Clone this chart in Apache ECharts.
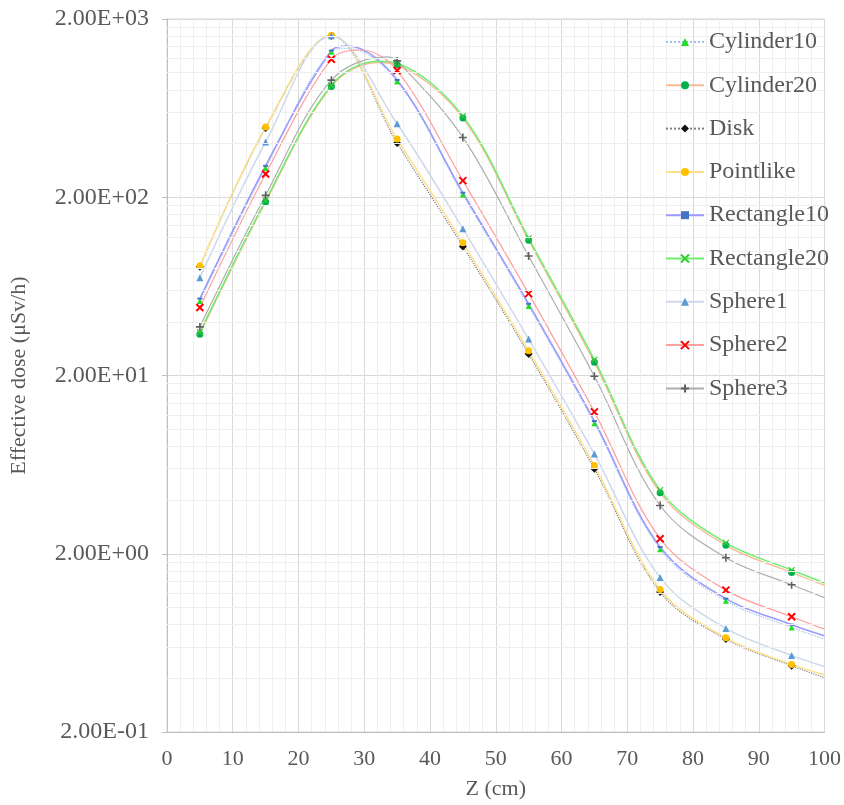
<!DOCTYPE html>
<html>
<head>
<meta charset="utf-8">
<script src="https://cdn.jsdelivr.net/npm/echarts@6/dist/echarts.min.js"></script>
<style>
html,body{margin:0;padding:0;background:#fff;}
#chart{width:844px;height:805px;}
</style>
</head>
<body>
<div id="chart"></div>
<script>
// ---- data ----
const zMarkers = [5, 15, 25, 35, 45, 55, 65, 75, 85, 95];
const seriesNames = ['Cylinder10', 'Cylinder20', 'Disk', 'Pointlike', 'Rectangle10', 'Rectangle20', 'Sphere1', 'Sphere2', 'Sphere3'];
const cylinder10  = [52.4, 292, 1312, 892, 207, 49.1, 10.8, 2.12, 1.09, 0.772];
const cylinder20  = [34.1, 188, 836, 1106, 556, 114.9, 23.7, 4.40, 2.23, 1.57];
const disk        = [81.6, 489, 1606, 403, 106, 26.4, 5.99, 1.22, 0.664, 0.471];
const pointlike   = [82.5, 495, 1620, 424, 111, 27.5, 6.25, 1.26, 0.675, 0.479];
const rectangle10 = [54.0, 300, 1330, 910, 212, 50.5, 11.1, 2.18, 1.12, 0.80];
const rectangle20 = [35.0, 192, 850, 1130, 570, 118, 24.5, 4.55, 2.30, 1.62];
const sphere1     = [70.8, 408, 1610, 517, 133, 32.0, 7.26, 1.47, 0.762, 0.538];
const sphere2     = [48.1, 270, 1190, 1028, 248, 57.6, 12.5, 2.43, 1.25, 0.886];
const sphere3     = [37.5, 205, 908, 1164, 433, 93.6, 19.8, 3.73, 1.90, 1.34];
// curve-only values (no marker)
const zEnd = 100;
const endValues  = [0.664, 1.33, 0.403, 0.418, 0.693, 1.37, 0.465, 0.755, 1.135];
const peakZ      = [27.5, 32, null, null, 27.5, 32, null, 29.5, 33.4];
const peakValues = [1370, 1140, null, null, 1410, 1160, null, 1340, 1226];
const yTicks = [0.2, 2, 20, 200, 2000];
const yMinorGrid = [0.4,0.6,0.8,1,1.2,1.4,1.6,1.8, 4,6,8,10,12,14,16,18, 40,60,80,100,120,140,160,180, 400,600,800,1000,1200,1400,1600,1800];

const allValues = [cylinder10, cylinder20, disk, pointlike, rectangle10, rectangle20, sphere1, sphere2, sphere3];

const X_PATH = 'path://M0,0L10,10M10,0L0,10';
const PLUS_PATH = 'path://M5,0L5,10M0,5L10,5';
const styles = [
  {line:{color:'#9dc3e6', width:1.2, type:'dotted'}, symbol:'triangle', size:6, item:{color:'#22dd22', borderColor:'#22dd22', borderWidth:0}},
  {line:{color:'#f8b995', width:1.3, type:'solid'}, symbol:'circle', size:7, item:{color:'#00b050', borderColor:'#00b050', borderWidth:0}},
  {line:{color:'#7f7f7f', width:1.2, type:'dotted'}, symbol:'diamond', size:8, item:{color:'#111111', borderColor:'#111111', borderWidth:0}},
  {line:{color:'#ffe08a', width:1.5, type:'solid'}, symbol:'circle', size:7, item:{color:'#ffc000', borderColor:'#ffc000', borderWidth:0}},
  {line:{color:'#9a9aff', width:1.6, type:'solid'}, symbol:'rect', size:[5,2], item:{color:'#4472c4', borderColor:'#4472c4', borderWidth:0}},
  {line:{color:'#70ee70', width:1.5, type:'solid'}, symbol:X_PATH, size:6, item:{color:'#33cc33', borderColor:'#33cc33', borderWidth:1.2}},
  {line:{color:'#cdd9ea', width:1.5, type:'solid'}, symbol:'triangle', size:7, item:{color:'#5b9bd5', borderColor:'#5b9bd5', borderWidth:0}},
  {line:{color:'#ff9f9f', width:1.2, type:'solid'}, symbol:X_PATH, size:7, item:{color:'#ff0000', borderColor:'#ff0000', borderWidth:2}},
  {line:{color:'#adadad', width:1.2, type:'solid'}, symbol:PLUS_PATH, size:8, item:{color:'#606060', borderColor:'#606060', borderWidth:1.6}}
];

function fmtExp(v) {
  const e = Math.round(Math.log10(v / 2));
  const m = v / Math.pow(10, e);
  return m.toFixed(2) + 'E' + (e < 0 ? '-' : '+') + String(Math.abs(e)).padStart(2, '0');
}

const series = seriesNames.map((name, i) => {
  const pts = zMarkers.map((z, k) => ({value: [z, allValues[i][k]]}));
  if (peakZ[i] != null) pts.push({value: [peakZ[i], peakValues[i]], symbol: 'none'});
  pts.push({value: [zEnd, endValues[i]], symbol: 'none'});
  pts.sort((a, b) => a.value[0] - b.value[0]);
  const s = styles[i];
  return {
    name, type: 'line', smooth: 0.35, data: pts,
    showSymbol: true, showAllSymbol: true,
    symbol: s.symbol, symbolSize: s.size,
    lineStyle: s.line, itemStyle: s.item,
    emphasis: {disabled: true}
  };
});

series.push({
  name: '__minorgrid', type: 'line', data: [], z: 1, silent: true,
  markLine: {
    silent: true, symbol: ['none', 'none'], label: {show: false},
    lineStyle: {color: '#efefef', width: 1, type: 'solid'},
    emphasis: {disabled: true},
    animation: false,
    data: yMinorGrid.map(v => ({yAxis: v}))
  }
});

const textColor = '#595959';
const serif = '"Liberation Serif", "Times New Roman", serif';

const chart = echarts.init(document.getElementById('chart'));
chart.setOption({
  animation: false,
  backgroundColor: '#ffffff',
  textStyle: {fontFamily: serif},
  grid: {left: 166, right: 18, top: 19, bottom: 71, show: true, borderColor: '#d9d9d9', borderWidth: 1},
  legend: {
    data: seriesNames,
    orient: 'vertical', left: 660, top: 25, z: 10,
    itemWidth: 38, itemHeight: 10, itemGap: 19.3,
    textStyle: {fontFamily: serif, fontSize: 24, color: textColor},
    selectedMode: false
  },
  xAxis: {
    type: 'value', min: 0, max: 100, interval: 10,
    name: 'Z (cm)', nameLocation: 'middle', nameGap: 46,
    nameTextStyle: {fontFamily: serif, fontSize: 22, color: textColor},
    axisLine: {show: true, lineStyle: {color: '#bfbfbf'}},
    axisTick: {show: false},
    axisLabel: {fontFamily: serif, fontSize: 22, color: textColor, margin: 16},
    splitLine: {show: true, lineStyle: {color: '#d9d9d9', width: 1}},
    minorTick: {show: false, splitNumber: 5},
    minorSplitLine: {show: true, lineStyle: {color: '#efefef', width: 1}}
  },
  yAxis: {
    type: 'log', logBase: 10, min: yTicks[0], max: yTicks[yTicks.length - 1], interval: 1,
    name: 'Effective dose (μSv/h)', nameLocation: 'middle', nameGap: 137, nameRotate: 90,
    nameTextStyle: {fontFamily: serif, fontSize: 22, color: textColor},
    axisLine: {show: true, lineStyle: {color: '#bfbfbf'}},
    axisTick: {show: true, length: 5, lineStyle: {color: '#bfbfbf'}},
    axisLabel: {fontFamily: serif, fontSize: 24, color: textColor, margin: 18, formatter: fmtExp},
    splitLine: {show: true, lineStyle: {color: '#d9d9d9', width: 1}}
  },
  series
});
</script>
</body>
</html>
